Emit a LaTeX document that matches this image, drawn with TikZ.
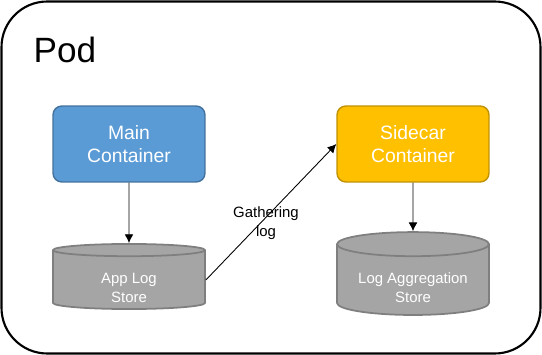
\documentclass[tikz,border=0pt]{standalone}
\usepackage{fontspec}
\setmainfont{Liberation Sans}
\usetikzlibrary{shapes.geometric,positioning,arrows.meta}
\definecolor{mainblue}{HTML}{5B9BD5}
\definecolor{mainborder}{HTML}{41719C}
\definecolor{sideyellow}{HTML}{FFC000}
\definecolor{sideborder}{HTML}{BF9000}
\definecolor{storegray}{HTML}{A5A5A5}
\definecolor{storeborder}{HTML}{7F7F7F}
\tikzset{
  container/.style={rectangle, rounded corners=5pt, minimum width=3.04cm, minimum height=1.52cm,
    text=white, align=center, font=\fontsize{11}{13.5}\selectfont, line width=0.8pt},
  store/.style={cylinder, shape border rotate=90, aspect=0.22, draw=storeborder, line width=1pt,
    cylinder uses custom fill, cylinder body fill=storegray, cylinder end fill=storegray,
    minimum width=3.04cm, minimum height=1.30cm, text=white, align=center,
    font=\fontsize{8.5}{11}\selectfont, inner sep=0pt},
  link/.style={-{Latex[length=5pt,width=5pt]}, line width=0.5pt}
}
\begin{document}
\begin{tikzpicture}[x=0.02cm,y=-0.02cm]
\useasboundingbox (0,0) rectangle (542,355);
\draw[line width=1.2pt, rounded corners=26pt] (1.5,1.5) rectangle (540.5,353.5);
\node[font=\fontsize{20}{24}\selectfont] (pod) at (65,50) {Pod};
% containers
\node[container, fill=mainblue, draw=mainborder] (main) at (129,144) {Main\\Container};
\node[container, fill=sideyellow, draw=sideborder] (sidecar) at (413,144) {Sidecar\\Container};
% stores
\node[store] (applog) at (129,280) {\\[4pt]App Log\\Store};
\node[store] (aggr) at (413,280) {\\[4pt]Log Aggregation\\Store};
\draw[link] (main) -- (applog.north);
\draw[link] (sidecar) -- (aggr.north);
\draw[link] (applog.east) -- (sidecar.west);
\node[font=\fontsize{8.5}{11}\selectfont, align=center] (gather) at (266,223) {Gathering\\log};
\end{tikzpicture}
\end{document}
